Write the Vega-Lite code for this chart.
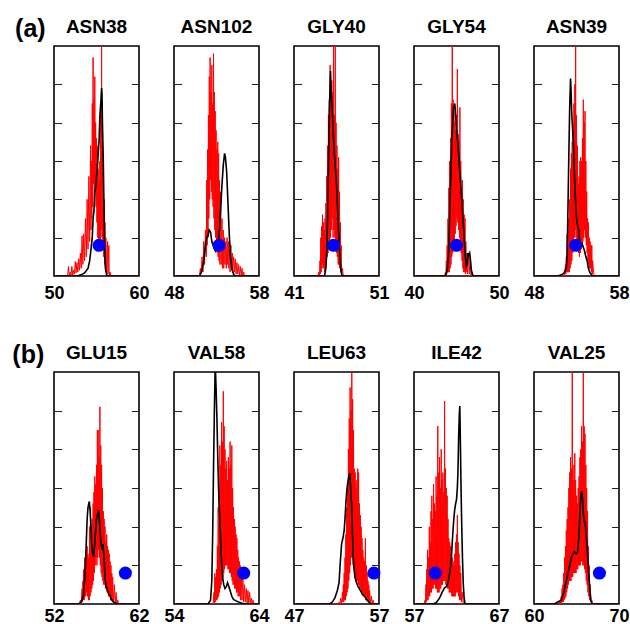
{
"$schema":"https://vega.github.io/schema/vega-lite/v6.json",
"padding":{"left":12,"top":17,"right":0,"bottom":0},
"datasets":{
"r1":[{"x":50,"y":0},{"x":51.6,"y":0},{"x":51.7,"y":0.25},{"x":51.8,"y":0},{"x":51.9,"y":0.1},{"x":52.0,"y":0},{"x":52.1,"y":0.25},{"x":52.2,"y":0.02},{"x":52.3,"y":0.15},{"x":52.4,"y":0.05},{"x":52.5,"y":0.38},{"x":52.6,"y":0.08},{"x":52.7,"y":0.35},{"x":52.8,"y":0.1},{"x":52.9,"y":0.45},{"x":53.0,"y":0.15},{"x":53.1,"y":0.6},{"x":53.2,"y":0.2},{"x":53.3,"y":1.05},{"x":53.4,"y":0.3},{"x":53.5,"y":1.1},{"x":53.6,"y":0.4},{"x":53.7,"y":1.5},{"x":53.8,"y":0.5},{"x":53.9,"y":2.0},{"x":54.0,"y":0.7},{"x":54.1,"y":2.6},{"x":54.2,"y":0.9},{"x":54.3,"y":3.4},{"x":54.35,"y":1.2},{"x":54.4,"y":3.0},{"x":54.45,"y":1.5},{"x":54.5,"y":4.5},{"x":54.55,"y":1.8},{"x":54.6,"y":5.7},{"x":54.65,"y":2.4},{"x":54.7,"y":4.6},{"x":54.75,"y":2.0},{"x":54.8,"y":5.2},{"x":54.85,"y":2.2},{"x":54.9,"y":4.0},{"x":54.95,"y":1.8},{"x":55.0,"y":3.6},{"x":55.05,"y":1.4},{"x":55.1,"y":3.4},{"x":55.15,"y":1.0},{"x":55.2,"y":2.8},{"x":55.25,"y":0.8},{"x":55.3,"y":2.5},{"x":55.35,"y":0.7},{"x":55.4,"y":3.0},{"x":55.45,"y":0.9},{"x":55.5,"y":4.4},{"x":55.55,"y":1.2},{"x":55.6,"y":6.2},{"x":55.65,"y":1.0},{"x":55.7,"y":4.2},{"x":55.75,"y":0.8},{"x":55.8,"y":2.8},{"x":55.85,"y":0.5},{"x":55.9,"y":2.0},{"x":55.95,"y":0.3},{"x":56.0,"y":1.4},{"x":56.05,"y":0.2},{"x":56.1,"y":1.0},{"x":56.2,"y":0.1},{"x":56.3,"y":0.9},{"x":56.35,"y":0.05},{"x":56.45,"y":0.8},{"x":56.5,"y":0},{"x":56.6,"y":0.1},{"x":56.7,"y":0},{"x":60,"y":0}],
"b1":[{"x":50,"y":0},{"x":52.7,"y":0},{"x":53.2,"y":0.03},{"x":53.6,"y":0.08},{"x":54.0,"y":0.2},{"x":54.2,"y":0.4},{"x":54.4,"y":0.8},{"x":54.5,"y":1.0},{"x":54.6,"y":1.5},{"x":54.7,"y":1.7},{"x":54.8,"y":2.2},{"x":54.9,"y":2.3},{"x":55.0,"y":2.6},{"x":55.1,"y":2.8},{"x":55.2,"y":3.2},{"x":55.3,"y":3.5},{"x":55.4,"y":4.2},{"x":55.5,"y":4.5},{"x":55.6,"y":4.9},{"x":55.65,"y":4.7},{"x":55.7,"y":4.0},{"x":55.8,"y":3.0},{"x":55.9,"y":1.5},{"x":55.95,"y":0.8},{"x":56.05,"y":0.2},{"x":56.2,"y":0.02},{"x":56.4,"y":0},{"x":60,"y":0}],
"r2":[{"x":48,"y":0},{"x":51.0,"y":0},{"x":51.1,"y":0.2},{"x":51.2,"y":0.05},{"x":51.3,"y":0.5},{"x":51.4,"y":0.1},{"x":51.5,"y":0.9},{"x":51.6,"y":0.3},{"x":51.7,"y":1.2},{"x":51.8,"y":0.5},{"x":51.85,"y":2.5},{"x":51.9,"y":0.8},{"x":51.95,"y":3.3},{"x":52.0,"y":1.0},{"x":52.05,"y":4.2},{"x":52.1,"y":1.5},{"x":52.15,"y":5.2},{"x":52.2,"y":2.0},{"x":52.25,"y":5.7},{"x":52.3,"y":2.5},{"x":52.35,"y":4.8},{"x":52.4,"y":2.2},{"x":52.45,"y":5.5},{"x":52.5,"y":2.0},{"x":52.55,"y":4.5},{"x":52.6,"y":1.8},{"x":52.65,"y":5.8},{"x":52.7,"y":1.5},{"x":52.75,"y":4.8},{"x":52.8,"y":1.2},{"x":52.85,"y":4.3},{"x":52.9,"y":1.0},{"x":52.95,"y":3.8},{"x":53.0,"y":0.8},{"x":53.05,"y":3.3},{"x":53.1,"y":0.6},{"x":53.15,"y":3.5},{"x":53.2,"y":0.5},{"x":53.25,"y":3.2},{"x":53.3,"y":0.4},{"x":53.35,"y":2.5},{"x":53.4,"y":0.3},{"x":53.5,"y":2.2},{"x":53.55,"y":0.3},{"x":53.65,"y":1.5},{"x":53.7,"y":0.2},{"x":53.8,"y":1.2},{"x":53.85,"y":0.2},{"x":53.95,"y":1.0},{"x":54.0,"y":0.3},{"x":54.1,"y":0.9},{"x":54.15,"y":0.2},{"x":54.25,"y":1.0},{"x":54.3,"y":0.3},{"x":54.4,"y":0.9},{"x":54.45,"y":0.2},{"x":54.55,"y":0.7},{"x":54.6,"y":0.1},{"x":54.7,"y":0.8},{"x":54.75,"y":0.15},{"x":54.85,"y":0.6},{"x":54.9,"y":0.1},{"x":55.0,"y":0.5},{"x":55.1,"y":0.1},{"x":55.2,"y":0.45},{"x":55.3,"y":0.05},{"x":55.4,"y":0.35},{"x":55.5,"y":0.05},{"x":55.6,"y":0.3},{"x":55.7,"y":0.02},{"x":55.8,"y":0.25},{"x":55.9,"y":0.02},{"x":56.0,"y":0.2},{"x":56.1,"y":0},{"x":56.2,"y":0.1},{"x":56.3,"y":0},{"x":58,"y":0}],
"b2":[{"x":48,"y":0},{"x":51.0,"y":0},{"x":51.3,"y":0.15},{"x":51.5,"y":0.4},{"x":51.7,"y":0.8},{"x":51.85,"y":1.0},{"x":52.0,"y":1.05},{"x":52.15,"y":1.2},{"x":52.3,"y":1.15},{"x":52.45,"y":0.9},{"x":52.6,"y":0.8},{"x":52.75,"y":0.7},{"x":52.9,"y":0.65},{"x":53.05,"y":0.75},{"x":53.2,"y":0.85},{"x":53.35,"y":1.2},{"x":53.5,"y":1.8},{"x":53.65,"y":2.4},{"x":53.8,"y":2.9},{"x":53.95,"y":3.2},{"x":54.05,"y":3.1},{"x":54.2,"y":2.7},{"x":54.35,"y":1.9},{"x":54.5,"y":1.1},{"x":54.65,"y":0.5},{"x":54.8,"y":0.2},{"x":55.0,"y":0.05},{"x":55.2,"y":0},{"x":58,"y":0}],
"r3":[{"x":41,"y":0},{"x":43.8,"y":0},{"x":43.9,"y":0.1},{"x":44.0,"y":0},{"x":44.05,"y":0.4},{"x":44.1,"y":0.05},{"x":44.15,"y":1.0},{"x":44.2,"y":0.1},{"x":44.25,"y":1.3},{"x":44.3,"y":0.2},{"x":44.35,"y":1.6},{"x":44.4,"y":0.3},{"x":44.45,"y":1.4},{"x":44.5,"y":0.2},{"x":44.55,"y":1.2},{"x":44.6,"y":0.1},{"x":44.65,"y":1.5},{"x":44.7,"y":0.2},{"x":44.75,"y":1.9},{"x":44.8,"y":0.4},{"x":44.85,"y":2.6},{"x":44.9,"y":0.5},{"x":44.95,"y":3.4},{"x":45.0,"y":0.6},{"x":45.05,"y":4.2},{"x":45.1,"y":0.7},{"x":45.15,"y":4.6},{"x":45.2,"y":0.8},{"x":45.25,"y":5.5},{"x":45.3,"y":1.0},{"x":45.35,"y":4.6},{"x":45.4,"y":1.2},{"x":45.45,"y":5.1},{"x":45.5,"y":1.5},{"x":45.55,"y":4.8},{"x":45.6,"y":1.0},{"x":45.65,"y":6.2},{"x":45.7,"y":1.2},{"x":45.75,"y":4.2},{"x":45.8,"y":1.0},{"x":45.85,"y":6.2},{"x":45.9,"y":0.8},{"x":45.95,"y":4.0},{"x":46.0,"y":0.6},{"x":46.05,"y":3.4},{"x":46.1,"y":0.5},{"x":46.15,"y":2.8},{"x":46.2,"y":0.3},{"x":46.25,"y":3.1},{"x":46.3,"y":0.3},{"x":46.35,"y":2.2},{"x":46.4,"y":0.2},{"x":46.45,"y":1.4},{"x":46.5,"y":0.1},{"x":46.55,"y":0.8},{"x":46.6,"y":0.05},{"x":46.7,"y":0.2},{"x":46.8,"y":0},{"x":51,"y":0}],
"b3":[{"x":41,"y":0},{"x":44.6,"y":0},{"x":44.75,"y":0.2},{"x":44.85,"y":0.6},{"x":44.95,"y":1.5},{"x":45.05,"y":2.8},{"x":45.15,"y":4.2},{"x":45.25,"y":5.0},{"x":45.3,"y":5.35},{"x":45.35,"y":4.9},{"x":45.42,"y":4.6},{"x":45.5,"y":4.3},{"x":45.6,"y":3.8},{"x":45.7,"y":3.4},{"x":45.8,"y":3.0},{"x":45.9,"y":2.7},{"x":46.0,"y":2.4},{"x":46.1,"y":1.9},{"x":46.2,"y":1.4},{"x":46.3,"y":0.9},{"x":46.4,"y":0.5},{"x":46.5,"y":0.2},{"x":46.6,"y":0.05},{"x":46.7,"y":0},{"x":51,"y":0}],
"r4":[{"x":40,"y":0},{"x":43.6,"y":0},{"x":43.7,"y":0.1},{"x":43.75,"y":0},{"x":43.8,"y":0.4},{"x":43.85,"y":0.05},{"x":43.9,"y":0.8},{"x":43.95,"y":0.1},{"x":44.0,"y":1.5},{"x":44.05,"y":0.1},{"x":44.1,"y":2.3},{"x":44.15,"y":0.1},{"x":44.2,"y":3.0},{"x":44.25,"y":0.2},{"x":44.3,"y":3.6},{"x":44.35,"y":0.3},{"x":44.4,"y":4.5},{"x":44.45,"y":0.5},{"x":44.5,"y":6.2},{"x":44.55,"y":0.6},{"x":44.6,"y":4.6},{"x":44.65,"y":0.7},{"x":44.7,"y":4.3},{"x":44.75,"y":0.9},{"x":44.8,"y":4.0},{"x":44.85,"y":1.1},{"x":44.9,"y":3.8},{"x":44.95,"y":1.3},{"x":45.0,"y":4.2},{"x":45.05,"y":1.5},{"x":45.1,"y":5.4},{"x":45.15,"y":1.4},{"x":45.2,"y":3.7},{"x":45.25,"y":1.2},{"x":45.3,"y":3.5},{"x":45.35,"y":1.0},{"x":45.4,"y":4.4},{"x":45.45,"y":0.8},{"x":45.5,"y":3.0},{"x":45.55,"y":0.6},{"x":45.6,"y":2.2},{"x":45.65,"y":0.4},{"x":45.7,"y":2.5},{"x":45.75,"y":0.2},{"x":45.8,"y":2.0},{"x":45.85,"y":0.1},{"x":45.9,"y":1.6},{"x":45.95,"y":0.1},{"x":46.0,"y":1.5},{"x":46.05,"y":0.05},{"x":46.1,"y":0.9},{"x":46.15,"y":0.1},{"x":46.2,"y":0.6},{"x":46.3,"y":0.05},{"x":46.4,"y":0.55},{"x":46.5,"y":0.05},{"x":46.6,"y":0.5},{"x":46.7,"y":0.02},{"x":46.8,"y":0.1},{"x":46.9,"y":0},{"x":50,"y":0}],
"b4":[{"x":40,"y":0},{"x":43.7,"y":0},{"x":43.9,"y":0.15},{"x":44.05,"y":0.5},{"x":44.15,"y":1.2},{"x":44.25,"y":2.0},{"x":44.35,"y":2.8},{"x":44.45,"y":3.5},{"x":44.55,"y":4.0},{"x":44.65,"y":4.4},{"x":44.8,"y":4.5},{"x":44.9,"y":4.2},{"x":45.0,"y":3.8},{"x":45.1,"y":3.6},{"x":45.25,"y":3.2},{"x":45.35,"y":2.8},{"x":45.45,"y":2.6},{"x":45.55,"y":2.2},{"x":45.65,"y":1.9},{"x":45.75,"y":1.5},{"x":45.85,"y":1.2},{"x":45.95,"y":0.8},{"x":46.05,"y":0.5},{"x":46.15,"y":0.25},{"x":46.25,"y":0.3},{"x":46.35,"y":0.6},{"x":46.45,"y":0.55},{"x":46.55,"y":0.6},{"x":46.65,"y":0.4},{"x":46.75,"y":0.15},{"x":46.9,"y":0.03},{"x":47.0,"y":0},{"x":50,"y":0}],
"r5":[{"x":48,"y":0},{"x":51.6,"y":0},{"x":51.7,"y":0.3},{"x":51.75,"y":0.05},{"x":51.8,"y":0.5},{"x":51.85,"y":0.1},{"x":51.9,"y":1.1},{"x":51.95,"y":0.1},{"x":52.0,"y":0.8},{"x":52.05,"y":0.1},{"x":52.1,"y":1.5},{"x":52.15,"y":0.1},{"x":52.2,"y":2.0},{"x":52.25,"y":0.2},{"x":52.3,"y":2.8},{"x":52.35,"y":0.3},{"x":52.4,"y":3.2},{"x":52.45,"y":0.4},{"x":52.5,"y":3.5},{"x":52.55,"y":0.6},{"x":52.6,"y":4.0},{"x":52.65,"y":0.8},{"x":52.7,"y":4.5},{"x":52.75,"y":1.0},{"x":52.8,"y":5.0},{"x":52.85,"y":1.2},{"x":52.9,"y":6.2},{"x":52.95,"y":1.0},{"x":53.0,"y":4.2},{"x":53.05,"y":0.9},{"x":53.1,"y":3.4},{"x":53.15,"y":0.8},{"x":53.2,"y":2.4},{"x":53.25,"y":0.6},{"x":53.3,"y":2.6},{"x":53.35,"y":0.5},{"x":53.4,"y":3.0},{"x":53.45,"y":0.6},{"x":53.5,"y":3.1},{"x":53.55,"y":0.7},{"x":53.6,"y":3.0},{"x":53.65,"y":0.8},{"x":53.7,"y":3.6},{"x":53.75,"y":0.9},{"x":53.8,"y":4.6},{"x":53.85,"y":1.0},{"x":53.9,"y":4.0},{"x":53.95,"y":1.2},{"x":54.0,"y":4.3},{"x":54.05,"y":1.0},{"x":54.1,"y":3.0},{"x":54.15,"y":0.8},{"x":54.2,"y":2.2},{"x":54.25,"y":0.6},{"x":54.3,"y":1.5},{"x":54.35,"y":0.4},{"x":54.4,"y":1.4},{"x":54.45,"y":0.3},{"x":54.5,"y":1.0},{"x":54.55,"y":0.2},{"x":54.6,"y":0.9},{"x":54.65,"y":0.2},{"x":54.7,"y":0.8},{"x":54.75,"y":0.1},{"x":54.8,"y":0.8},{"x":54.85,"y":0.05},{"x":54.9,"y":0.4},{"x":55.0,"y":0.1},{"x":55.1,"y":0},{"x":58,"y":0}],
"b5":[{"x":48,"y":0},{"x":50.8,"y":0},{"x":51.2,"y":0.03},{"x":51.5,"y":0.07},{"x":51.8,"y":0.2},{"x":51.9,"y":0.6},{"x":52.0,"y":1.8},{"x":52.1,"y":3.2},{"x":52.2,"y":4.4},{"x":52.3,"y":5.15},{"x":52.35,"y":4.9},{"x":52.45,"y":4.2},{"x":52.55,"y":3.8},{"x":52.67,"y":3.3},{"x":52.76,"y":2.6},{"x":52.86,"y":2.1},{"x":52.95,"y":1.7},{"x":53.05,"y":1.4},{"x":53.15,"y":1.3},{"x":53.25,"y":1.2},{"x":53.35,"y":0.95},{"x":53.5,"y":0.8},{"x":53.65,"y":0.85},{"x":53.8,"y":0.75},{"x":53.95,"y":0.65},{"x":54.1,"y":0.5},{"x":54.25,"y":0.4},{"x":54.4,"y":0.2},{"x":54.55,"y":0.1},{"x":54.7,"y":0.05},{"x":54.9,"y":0},{"x":58,"y":0}],
"r6":[{"x":52,"y":0},{"x":55.0,"y":0},{"x":55.1,"y":0.1},{"x":55.2,"y":0},{"x":55.3,"y":0.4},{"x":55.35,"y":0.05},{"x":55.4,"y":0.6},{"x":55.45,"y":0.1},{"x":55.5,"y":0.9},{"x":55.55,"y":0.1},{"x":55.6,"y":1.2},{"x":55.65,"y":0.2},{"x":55.7,"y":1.0},{"x":55.75,"y":0.2},{"x":55.8,"y":1.4},{"x":55.85,"y":0.3},{"x":55.9,"y":1.5},{"x":55.95,"y":0.2},{"x":56.0,"y":1.3},{"x":56.05,"y":0.1},{"x":56.1,"y":1.2},{"x":56.15,"y":0.1},{"x":56.2,"y":2.0},{"x":56.25,"y":0.2},{"x":56.3,"y":2.5},{"x":56.35,"y":0.3},{"x":56.4,"y":1.8},{"x":56.45,"y":0.4},{"x":56.5,"y":2.2},{"x":56.55,"y":0.5},{"x":56.6,"y":2.6},{"x":56.65,"y":0.6},{"x":56.7,"y":2.9},{"x":56.75,"y":0.8},{"x":56.8,"y":3.3},{"x":56.85,"y":1.0},{"x":56.9,"y":3.1},{"x":56.95,"y":1.2},{"x":57.0,"y":3.6},{"x":57.05,"y":1.0},{"x":57.1,"y":4.5},{"x":57.15,"y":1.2},{"x":57.2,"y":4.5},{"x":57.25,"y":1.4},{"x":57.3,"y":3.8},{"x":57.35,"y":1.2},{"x":57.4,"y":5.1},{"x":57.45,"y":1.0},{"x":57.5,"y":4.1},{"x":57.55,"y":0.8},{"x":57.6,"y":3.6},{"x":57.65,"y":0.7},{"x":57.7,"y":3.0},{"x":57.75,"y":0.6},{"x":57.8,"y":2.4},{"x":57.85,"y":0.5},{"x":57.9,"y":2.2},{"x":57.95,"y":0.5},{"x":58.0,"y":2.0},{"x":58.05,"y":0.4},{"x":58.1,"y":1.6},{"x":58.15,"y":0.4},{"x":58.2,"y":1.8},{"x":58.25,"y":0.3},{"x":58.3,"y":1.5},{"x":58.35,"y":0.3},{"x":58.4,"y":1.4},{"x":58.45,"y":0.2},{"x":58.5,"y":1.3},{"x":58.55,"y":0.2},{"x":58.6,"y":1.1},{"x":58.65,"y":0.1},{"x":58.7,"y":1.0},{"x":58.75,"y":0.1},{"x":58.8,"y":0.8},{"x":58.85,"y":0.1},{"x":58.9,"y":0.7},{"x":59.0,"y":0.05},{"x":59.1,"y":0.5},{"x":59.2,"y":0.02},{"x":59.3,"y":0.3},{"x":59.4,"y":0},{"x":59.5,"y":0.1},{"x":59.6,"y":0},{"x":62,"y":0}],
"b6":[{"x":52,"y":0},{"x":54.9,"y":0},{"x":55.2,"y":0.05},{"x":55.45,"y":0.2},{"x":55.6,"y":0.6},{"x":55.7,"y":1.0},{"x":55.8,"y":1.6},{"x":55.9,"y":2.2},{"x":56.0,"y":2.5},{"x":56.15,"y":2.65},{"x":56.25,"y":2.4},{"x":56.35,"y":2.0},{"x":56.45,"y":1.5},{"x":56.55,"y":1.3},{"x":56.67,"y":1.22},{"x":56.8,"y":1.6},{"x":56.9,"y":1.9},{"x":57.0,"y":2.2},{"x":57.1,"y":2.3},{"x":57.25,"y":2.43},{"x":57.35,"y":2.1},{"x":57.45,"y":1.8},{"x":57.55,"y":1.5},{"x":57.65,"y":1.4},{"x":57.75,"y":1.55},{"x":57.85,"y":1.3},{"x":57.95,"y":0.9},{"x":58.05,"y":0.6},{"x":58.15,"y":0.45},{"x":58.3,"y":0.35},{"x":58.45,"y":0.25},{"x":58.6,"y":0.2},{"x":58.8,"y":0.1},{"x":59.0,"y":0.05},{"x":59.3,"y":0.02},{"x":59.5,"y":0},{"x":62,"y":0}],
"r7":[{"x":54,"y":0},{"x":58.6,"y":0},{"x":58.7,"y":0.3},{"x":58.75,"y":0},{"x":58.8,"y":0.8},{"x":58.85,"y":0.05},{"x":58.9,"y":0.7},{"x":58.95,"y":0.1},{"x":59.0,"y":0.9},{"x":59.05,"y":0.1},{"x":59.1,"y":1.5},{"x":59.15,"y":0.15},{"x":59.2,"y":2.5},{"x":59.25,"y":0.2},{"x":59.3,"y":3.0},{"x":59.35,"y":0.3},{"x":59.4,"y":4.1},{"x":59.45,"y":0.4},{"x":59.5,"y":3.6},{"x":59.55,"y":0.5},{"x":59.6,"y":4.7},{"x":59.65,"y":0.6},{"x":59.7,"y":4.2},{"x":59.75,"y":0.7},{"x":59.8,"y":5.5},{"x":59.85,"y":0.8},{"x":59.9,"y":4.6},{"x":59.95,"y":0.9},{"x":60.0,"y":4.0},{"x":60.05,"y":1.0},{"x":60.1,"y":3.5},{"x":60.15,"y":1.0},{"x":60.2,"y":3.7},{"x":60.25,"y":1.0},{"x":60.3,"y":3.2},{"x":60.35,"y":0.9},{"x":60.4,"y":3.8},{"x":60.45,"y":0.9},{"x":60.5,"y":3.5},{"x":60.55,"y":0.8},{"x":60.6,"y":4.2},{"x":60.65,"y":0.8},{"x":60.7,"y":3.6},{"x":60.75,"y":0.7},{"x":60.8,"y":4.1},{"x":60.85,"y":0.6},{"x":60.9,"y":3.0},{"x":60.95,"y":0.5},{"x":61.0,"y":2.5},{"x":61.05,"y":0.5},{"x":61.1,"y":2.2},{"x":61.15,"y":0.4},{"x":61.2,"y":2.0},{"x":61.25,"y":0.4},{"x":61.3,"y":1.8},{"x":61.35,"y":0.3},{"x":61.4,"y":1.7},{"x":61.45,"y":0.3},{"x":61.5,"y":1.4},{"x":61.55,"y":0.2},{"x":61.6,"y":1.2},{"x":61.65,"y":0.2},{"x":61.7,"y":1.1},{"x":61.75,"y":0.2},{"x":61.8,"y":1.0},{"x":61.85,"y":0.1},{"x":61.9,"y":0.95},{"x":62.0,"y":0.1},{"x":62.1,"y":0.7},{"x":62.2,"y":0.05},{"x":62.3,"y":0.5},{"x":62.4,"y":0.05},{"x":62.5,"y":0.4},{"x":62.6,"y":0.02},{"x":62.7,"y":0.35},{"x":62.8,"y":0},{"x":62.9,"y":0.3},{"x":63.0,"y":0},{"x":63.1,"y":0.15},{"x":63.2,"y":0},{"x":63.3,"y":0.1},{"x":63.4,"y":0},{"x":64,"y":0}],
"b7":[{"x":54,"y":0},{"x":58.0,"y":0},{"x":58.3,"y":0.1},{"x":58.45,"y":0.6},{"x":58.55,"y":1.8},{"x":58.65,"y":3.5},{"x":58.75,"y":5.0},{"x":58.85,"y":6.2},{"x":58.95,"y":5.6},{"x":59.05,"y":4.8},{"x":59.15,"y":3.8},{"x":59.25,"y":2.95},{"x":59.35,"y":2.4},{"x":59.45,"y":1.9},{"x":59.55,"y":1.3},{"x":59.65,"y":0.88},{"x":59.75,"y":0.65},{"x":59.85,"y":0.5},{"x":60.0,"y":0.4},{"x":60.15,"y":0.45},{"x":60.3,"y":0.55},{"x":60.45,"y":0.45},{"x":60.6,"y":0.35},{"x":60.8,"y":0.2},{"x":61.0,"y":0.12},{"x":61.3,"y":0.08},{"x":61.6,"y":0.05},{"x":62.0,"y":0.02},{"x":62.5,"y":0},{"x":64,"y":0}],
"r8":[{"x":47,"y":0},{"x":52.2,"y":0},{"x":52.3,"y":0.05},{"x":52.4,"y":0},{"x":52.5,"y":0.15},{"x":52.6,"y":0},{"x":52.7,"y":0.3},{"x":52.75,"y":0.05},{"x":52.8,"y":0.5},{"x":52.85,"y":0.05},{"x":52.9,"y":0.8},{"x":52.95,"y":0.1},{"x":53.0,"y":1.2},{"x":53.05,"y":0.1},{"x":53.1,"y":1.8},{"x":53.15,"y":0.2},{"x":53.2,"y":2.5},{"x":53.25,"y":0.3},{"x":53.3,"y":3.0},{"x":53.35,"y":0.4},{"x":53.4,"y":4.0},{"x":53.45,"y":0.6},{"x":53.5,"y":4.8},{"x":53.55,"y":0.8},{"x":53.6,"y":5.6},{"x":53.65,"y":1.0},{"x":53.7,"y":5.0},{"x":53.75,"y":1.2},{"x":53.8,"y":6.2},{"x":53.85,"y":1.2},{"x":53.9,"y":5.3},{"x":53.95,"y":1.0},{"x":54.0,"y":4.5},{"x":54.05,"y":0.9},{"x":54.1,"y":3.5},{"x":54.15,"y":0.8},{"x":54.2,"y":3.4},{"x":54.25,"y":0.7},{"x":54.3,"y":3.0},{"x":54.35,"y":0.6},{"x":54.4,"y":3.2},{"x":54.45,"y":0.6},{"x":54.5,"y":3.5},{"x":54.55,"y":0.5},{"x":54.6,"y":3.4},{"x":54.65,"y":0.5},{"x":54.7,"y":2.6},{"x":54.75,"y":0.4},{"x":54.8,"y":2.3},{"x":54.85,"y":0.4},{"x":54.9,"y":2.0},{"x":54.95,"y":0.3},{"x":55.0,"y":1.7},{"x":55.05,"y":0.3},{"x":55.1,"y":1.4},{"x":55.15,"y":0.2},{"x":55.2,"y":1.2},{"x":55.25,"y":0.2},{"x":55.3,"y":1.1},{"x":55.35,"y":0.2},{"x":55.4,"y":1.7},{"x":55.45,"y":0.1},{"x":55.5,"y":1.0},{"x":55.55,"y":0.1},{"x":55.6,"y":0.8},{"x":55.65,"y":0.1},{"x":55.7,"y":0.6},{"x":55.75,"y":0.05},{"x":55.8,"y":0.5},{"x":55.85,"y":0.05},{"x":55.9,"y":0.35},{"x":56.0,"y":0.02},{"x":56.1,"y":0.2},{"x":56.2,"y":0},{"x":56.3,"y":0.1},{"x":56.4,"y":0},{"x":57,"y":0}],
"b8":[{"x":47,"y":0},{"x":51.2,"y":0},{"x":51.5,"y":0.05},{"x":51.8,"y":0.15},{"x":52.1,"y":0.35},{"x":52.3,"y":0.55},{"x":52.45,"y":1.1},{"x":52.6,"y":1.55},{"x":52.75,"y":1.7},{"x":52.9,"y":1.9},{"x":53.0,"y":2.2},{"x":53.1,"y":2.6},{"x":53.2,"y":2.9},{"x":53.3,"y":3.1},{"x":53.45,"y":3.3},{"x":53.58,"y":3.38},{"x":53.68,"y":2.9},{"x":53.77,"y":2.6},{"x":53.87,"y":1.9},{"x":53.97,"y":1.2},{"x":54.07,"y":0.9},{"x":54.16,"y":0.7},{"x":54.35,"y":0.55},{"x":54.55,"y":0.45},{"x":54.8,"y":0.35},{"x":55.05,"y":0.25},{"x":55.3,"y":0.2},{"x":55.6,"y":0.1},{"x":55.9,"y":0.03},{"x":56.1,"y":0},{"x":57,"y":0}],
"r9":[{"x":57,"y":0},{"x":58.2,"y":0},{"x":58.3,"y":0.1},{"x":58.35,"y":0},{"x":58.4,"y":0.5},{"x":58.45,"y":0.05},{"x":58.5,"y":0.9},{"x":58.55,"y":0.1},{"x":58.6,"y":1.4},{"x":58.65,"y":0.1},{"x":58.7,"y":1.2},{"x":58.75,"y":0.2},{"x":58.8,"y":2.0},{"x":58.85,"y":0.2},{"x":58.9,"y":1.6},{"x":58.95,"y":0.3},{"x":59.0,"y":2.4},{"x":59.05,"y":0.3},{"x":59.1,"y":2.8},{"x":59.15,"y":0.4},{"x":59.2,"y":2.2},{"x":59.25,"y":0.4},{"x":59.3,"y":3.1},{"x":59.35,"y":0.5},{"x":59.4,"y":2.6},{"x":59.45,"y":0.5},{"x":59.5,"y":2.4},{"x":59.55,"y":0.4},{"x":59.6,"y":3.3},{"x":59.65,"y":0.4},{"x":59.7,"y":2.8},{"x":59.75,"y":0.3},{"x":59.8,"y":4.6},{"x":59.85,"y":0.3},{"x":59.9,"y":3.4},{"x":59.95,"y":0.3},{"x":60.0,"y":3.8},{"x":60.05,"y":0.4},{"x":60.1,"y":3.0},{"x":60.15,"y":0.4},{"x":60.2,"y":4.0},{"x":60.25,"y":0.5},{"x":60.3,"y":3.2},{"x":60.35,"y":0.5},{"x":60.4,"y":3.4},{"x":60.45,"y":0.6},{"x":60.5,"y":2.9},{"x":60.55,"y":0.6},{"x":60.6,"y":5.25},{"x":60.65,"y":0.6},{"x":60.7,"y":3.5},{"x":60.75,"y":0.5},{"x":60.8,"y":3.0},{"x":60.85,"y":0.5},{"x":60.9,"y":2.8},{"x":60.95,"y":0.4},{"x":61.0,"y":2.2},{"x":61.05,"y":0.4},{"x":61.1,"y":1.7},{"x":61.15,"y":0.3},{"x":61.2,"y":1.6},{"x":61.25,"y":0.3},{"x":61.3,"y":1.5},{"x":61.35,"y":0.3},{"x":61.4,"y":1.3},{"x":61.45,"y":0.2},{"x":61.5,"y":1.2},{"x":61.55,"y":0.2},{"x":61.6,"y":1.1},{"x":61.65,"y":0.2},{"x":61.7,"y":1.0},{"x":61.75,"y":0.2},{"x":61.8,"y":1.3},{"x":61.85,"y":0.2},{"x":61.9,"y":1.6},{"x":61.95,"y":0.3},{"x":62.0,"y":1.8},{"x":62.05,"y":0.3},{"x":62.1,"y":2.3},{"x":62.15,"y":0.3},{"x":62.2,"y":1.6},{"x":62.25,"y":0.2},{"x":62.3,"y":1.3},{"x":62.35,"y":0.1},{"x":62.4,"y":1.0},{"x":62.45,"y":0.1},{"x":62.5,"y":0.8},{"x":62.6,"y":0.05},{"x":62.7,"y":0.3},{"x":62.8,"y":0},{"x":62.9,"y":0.05},{"x":63.0,"y":0},{"x":67,"y":0}],
"b9":[{"x":57,"y":0},{"x":59.2,"y":0},{"x":59.6,"y":0.03},{"x":60.0,"y":0.15},{"x":60.3,"y":0.3},{"x":60.6,"y":0.42},{"x":60.8,"y":0.45},{"x":61.0,"y":0.55},{"x":61.2,"y":0.8},{"x":61.38,"y":1.1},{"x":61.5,"y":1.6},{"x":61.65,"y":2.1},{"x":61.77,"y":2.4},{"x":61.9,"y":2.6},{"x":62.0,"y":2.7},{"x":62.1,"y":3.0},{"x":62.17,"y":3.4},{"x":62.25,"y":4.3},{"x":62.33,"y":4.9},{"x":62.39,"y":5.12},{"x":62.45,"y":4.3},{"x":62.52,"y":3.2},{"x":62.6,"y":2.2},{"x":62.7,"y":1.2},{"x":62.8,"y":0.5},{"x":62.9,"y":0.15},{"x":63.0,"y":0.02},{"x":63.1,"y":0},{"x":67,"y":0}],
"r10":[{"x":60,"y":0},{"x":62.9,"y":0},{"x":63.0,"y":0.05},{"x":63.1,"y":0},{"x":63.2,"y":0.2},{"x":63.25,"y":0},{"x":63.3,"y":0.4},{"x":63.35,"y":0.05},{"x":63.4,"y":0.5},{"x":63.45,"y":0.05},{"x":63.5,"y":0.8},{"x":63.55,"y":0.1},{"x":63.6,"y":1.2},{"x":63.65,"y":0.15},{"x":63.7,"y":1.5},{"x":63.75,"y":0.2},{"x":63.8,"y":1.9},{"x":63.85,"y":0.3},{"x":63.9,"y":2.2},{"x":63.95,"y":0.4},{"x":64.0,"y":2.5},{"x":64.05,"y":0.5},{"x":64.1,"y":3.0},{"x":64.15,"y":0.6},{"x":64.2,"y":3.4},{"x":64.25,"y":0.6},{"x":64.3,"y":3.8},{"x":64.35,"y":0.6},{"x":64.4,"y":3.5},{"x":64.45,"y":0.7},{"x":64.5,"y":6.2},{"x":64.55,"y":0.7},{"x":64.6,"y":3.2},{"x":64.65,"y":0.8},{"x":64.7,"y":3.6},{"x":64.75,"y":0.8},{"x":64.8,"y":3.9},{"x":64.85,"y":0.8},{"x":64.9,"y":3.2},{"x":64.95,"y":0.8},{"x":65.0,"y":2.8},{"x":65.05,"y":0.9},{"x":65.1,"y":2.6},{"x":65.15,"y":0.9},{"x":65.2,"y":3.0},{"x":65.25,"y":1.0},{"x":65.3,"y":3.3},{"x":65.35,"y":1.0},{"x":65.4,"y":3.8},{"x":65.45,"y":1.0},{"x":65.5,"y":4.0},{"x":65.55,"y":1.1},{"x":65.6,"y":4.6},{"x":65.65,"y":1.1},{"x":65.7,"y":4.2},{"x":65.75,"y":1.0},{"x":65.8,"y":6.2},{"x":65.85,"y":1.0},{"x":65.9,"y":4.6},{"x":65.95,"y":0.9},{"x":66.0,"y":4.4},{"x":66.05,"y":0.8},{"x":66.1,"y":3.6},{"x":66.15,"y":0.6},{"x":66.2,"y":3.0},{"x":66.25,"y":0.5},{"x":66.3,"y":2.4},{"x":66.35,"y":0.3},{"x":66.4,"y":1.5},{"x":66.45,"y":0.2},{"x":66.5,"y":1.0},{"x":66.55,"y":0.1},{"x":66.6,"y":0.5},{"x":66.7,"y":0.05},{"x":66.8,"y":0.1},{"x":66.9,"y":0},{"x":70,"y":0}],
"b10":[{"x":60,"y":0},{"x":62.4,"y":0},{"x":62.8,"y":0.05},{"x":63.2,"y":0.1},{"x":63.5,"y":0.3},{"x":63.75,"y":0.55},{"x":63.97,"y":0.76},{"x":64.2,"y":1.0},{"x":64.4,"y":1.2},{"x":64.55,"y":1.28},{"x":64.75,"y":1.35},{"x":64.95,"y":1.3},{"x":65.14,"y":1.36},{"x":65.3,"y":1.8},{"x":65.42,"y":2.4},{"x":65.53,"y":2.85},{"x":65.62,"y":2.92},{"x":65.72,"y":2.7},{"x":65.82,"y":2.3},{"x":65.92,"y":2.1},{"x":65.99,"y":2.14},{"x":66.1,"y":1.9},{"x":66.2,"y":1.6},{"x":66.3,"y":1.28},{"x":66.4,"y":0.9},{"x":66.5,"y":0.6},{"x":66.6,"y":0.3},{"x":66.7,"y":0.08},{"x":66.85,"y":0},{"x":70,"y":0}]
},
"vconcat":[
{"title":{"text":"(a)","orient":"left","anchor":"end","angle":0,"align":"right","baseline":"top","fontSize":25,"offset":0,"dx":33},
 "hconcat":[
{"width":85,"height":230,"title":"ASN38",
 "encoding":{"x":{"field":"x","type":"quantitative","scale":{"domain":[50,60],"nice":false,"zero":false},"axis":{"values":[50,60],"title":null}},
  "y":{"field":"y","type":"quantitative","scale":{"domain":[0,6],"nice":false},"axis":{"values":[1,2,3,4,5],"orient":"left","title":null}}},
 "layer":[
  {"data":{"name":"r1"},"mark":{"type":"line","color":"#ff0000","strokeWidth":1,"clip":true}},
  {"data":{"name":"b1"},"mark":{"type":"line","color":"#000000","strokeWidth":1.6,"clip":true},"encoding":{"y":{"field":"y","type":"quantitative","scale":{"domain":[0,6],"nice":false},"axis":{"values":[1,2,3,4,5],"orient":"right","title":null}}}},
  {"data":{"values":[{"x":55.3,"y":0.8}]},"mark":{"type":"circle","color":"#0000ff","opacity":1,"size":170},"encoding":{"y":{"field":"y","type":"quantitative","axis":null}}}
 ],"resolve":{"axis":{"y":"independent"}}},
{"width":85,"height":230,"title":"ASN102",
 "encoding":{"x":{"field":"x","type":"quantitative","scale":{"domain":[48,58],"nice":false,"zero":false},"axis":{"values":[48,58],"title":null}},
  "y":{"field":"y","type":"quantitative","scale":{"domain":[0,6],"nice":false},"axis":{"values":[1,2,3,4,5],"orient":"left","title":null}}},
 "layer":[
  {"data":{"name":"r2"},"mark":{"type":"line","color":"#ff0000","strokeWidth":1,"clip":true}},
  {"data":{"name":"b2"},"mark":{"type":"line","color":"#000000","strokeWidth":1.6,"clip":true},"encoding":{"y":{"field":"y","type":"quantitative","scale":{"domain":[0,6],"nice":false},"axis":{"values":[1,2,3,4,5],"orient":"right","title":null}}}},
  {"data":{"values":[{"x":53.3,"y":0.8}]},"mark":{"type":"circle","color":"#0000ff","opacity":1,"size":170},"encoding":{"y":{"field":"y","type":"quantitative","axis":null}}}
 ],"resolve":{"axis":{"y":"independent"}}},
{"width":85,"height":230,"title":"GLY40",
 "encoding":{"x":{"field":"x","type":"quantitative","scale":{"domain":[41,51],"nice":false,"zero":false},"axis":{"values":[41,51],"title":null}},
  "y":{"field":"y","type":"quantitative","scale":{"domain":[0,6],"nice":false},"axis":{"values":[1,2,3,4,5],"orient":"left","title":null}}},
 "layer":[
  {"data":{"name":"r3"},"mark":{"type":"line","color":"#ff0000","strokeWidth":1,"clip":true}},
  {"data":{"name":"b3"},"mark":{"type":"line","color":"#000000","strokeWidth":1.6,"clip":true},"encoding":{"y":{"field":"y","type":"quantitative","scale":{"domain":[0,6],"nice":false},"axis":{"values":[1,2,3,4,5],"orient":"right","title":null}}}},
  {"data":{"values":[{"x":45.65,"y":0.8}]},"mark":{"type":"circle","color":"#0000ff","opacity":1,"size":170},"encoding":{"y":{"field":"y","type":"quantitative","axis":null}}}
 ],"resolve":{"axis":{"y":"independent"}}},
{"width":85,"height":230,"title":"GLY54",
 "encoding":{"x":{"field":"x","type":"quantitative","scale":{"domain":[40,50],"nice":false,"zero":false},"axis":{"values":[40,50],"title":null}},
  "y":{"field":"y","type":"quantitative","scale":{"domain":[0,6],"nice":false},"axis":{"values":[1,2,3,4,5],"orient":"left","title":null}}},
 "layer":[
  {"data":{"name":"r4"},"mark":{"type":"line","color":"#ff0000","strokeWidth":1,"clip":true}},
  {"data":{"name":"b4"},"mark":{"type":"line","color":"#000000","strokeWidth":1.6,"clip":true},"encoding":{"y":{"field":"y","type":"quantitative","scale":{"domain":[0,6],"nice":false},"axis":{"values":[1,2,3,4,5],"orient":"right","title":null}}}},
  {"data":{"values":[{"x":45.0,"y":0.8}]},"mark":{"type":"circle","color":"#0000ff","opacity":1,"size":170},"encoding":{"y":{"field":"y","type":"quantitative","axis":null}}}
 ],"resolve":{"axis":{"y":"independent"}}},
{"width":85,"height":230,"title":"ASN39",
 "encoding":{"x":{"field":"x","type":"quantitative","scale":{"domain":[48,58],"nice":false,"zero":false},"axis":{"values":[48,58],"title":null}},
  "y":{"field":"y","type":"quantitative","scale":{"domain":[0,6],"nice":false},"axis":{"values":[1,2,3,4,5],"orient":"left","title":null}}},
 "layer":[
  {"data":{"name":"r5"},"mark":{"type":"line","color":"#ff0000","strokeWidth":1,"clip":true}},
  {"data":{"name":"b5"},"mark":{"type":"line","color":"#000000","strokeWidth":1.6,"clip":true},"encoding":{"y":{"field":"y","type":"quantitative","scale":{"domain":[0,6],"nice":false},"axis":{"values":[1,2,3,4,5],"orient":"right","title":null}}}},
  {"data":{"values":[{"x":52.9,"y":0.8}]},"mark":{"type":"circle","color":"#0000ff","opacity":1,"size":170},"encoding":{"y":{"field":"y","type":"quantitative","axis":null}}}
 ],"resolve":{"axis":{"y":"independent"}}}
],"spacing":35,"bounds":"flush"},
{"title":{"text":"(b)","orient":"left","anchor":"end","angle":0,"align":"right","baseline":"top","fontSize":25,"offset":0,"dx":33},
 "hconcat":[
{"width":85,"height":232,"title":"GLU15",
 "encoding":{"x":{"field":"x","type":"quantitative","scale":{"domain":[52,62],"nice":false,"zero":false},"axis":{"values":[52,62],"title":null,"labelPadding":3}},
  "y":{"field":"y","type":"quantitative","scale":{"domain":[0,6],"nice":false},"axis":{"values":[1,2,3,4,5],"orient":"left","title":null}}},
 "layer":[
  {"data":{"name":"r6"},"mark":{"type":"line","color":"#ff0000","strokeWidth":1,"clip":true}},
  {"data":{"name":"b6"},"mark":{"type":"line","color":"#000000","strokeWidth":1.6,"clip":true},"encoding":{"y":{"field":"y","type":"quantitative","scale":{"domain":[0,6],"nice":false},"axis":{"values":[1,2,3,4,5],"orient":"right","title":null}}}},
  {"data":{"values":[{"x":60.4,"y":0.8}]},"mark":{"type":"circle","color":"#0000ff","opacity":1,"size":170},"encoding":{"y":{"field":"y","type":"quantitative","axis":null}}}
 ],"resolve":{"axis":{"y":"independent"}}},
{"width":85,"height":232,"title":"VAL58",
 "encoding":{"x":{"field":"x","type":"quantitative","scale":{"domain":[54,64],"nice":false,"zero":false},"axis":{"values":[54,64],"title":null,"labelPadding":3}},
  "y":{"field":"y","type":"quantitative","scale":{"domain":[0,6],"nice":false},"axis":{"values":[1,2,3,4,5],"orient":"left","title":null}}},
 "layer":[
  {"data":{"name":"r7"},"mark":{"type":"line","color":"#ff0000","strokeWidth":1,"clip":true}},
  {"data":{"name":"b7"},"mark":{"type":"line","color":"#000000","strokeWidth":1.6,"clip":true},"encoding":{"y":{"field":"y","type":"quantitative","scale":{"domain":[0,6],"nice":false},"axis":{"values":[1,2,3,4,5],"orient":"right","title":null}}}},
  {"data":{"values":[{"x":62.2,"y":0.8}]},"mark":{"type":"circle","color":"#0000ff","opacity":1,"size":170},"encoding":{"y":{"field":"y","type":"quantitative","axis":null}}}
 ],"resolve":{"axis":{"y":"independent"}}},
{"width":85,"height":232,"title":"LEU63",
 "encoding":{"x":{"field":"x","type":"quantitative","scale":{"domain":[47,57],"nice":false,"zero":false},"axis":{"values":[47,57],"title":null,"labelPadding":3}},
  "y":{"field":"y","type":"quantitative","scale":{"domain":[0,6],"nice":false},"axis":{"values":[1,2,3,4,5],"orient":"left","title":null}}},
 "layer":[
  {"data":{"name":"r8"},"mark":{"type":"line","color":"#ff0000","strokeWidth":1,"clip":true}},
  {"data":{"name":"b8"},"mark":{"type":"line","color":"#000000","strokeWidth":1.6,"clip":true},"encoding":{"y":{"field":"y","type":"quantitative","scale":{"domain":[0,6],"nice":false},"axis":{"values":[1,2,3,4,5],"orient":"right","title":null}}}},
  {"data":{"values":[{"x":56.4,"y":0.8}]},"mark":{"type":"circle","color":"#0000ff","opacity":1,"size":170},"encoding":{"y":{"field":"y","type":"quantitative","axis":null}}}
 ],"resolve":{"axis":{"y":"independent"}}},
{"width":85,"height":232,"title":"ILE42",
 "encoding":{"x":{"field":"x","type":"quantitative","scale":{"domain":[57,67],"nice":false,"zero":false},"axis":{"values":[57,67],"title":null,"labelPadding":3}},
  "y":{"field":"y","type":"quantitative","scale":{"domain":[0,6],"nice":false},"axis":{"values":[1,2,3,4,5],"orient":"left","title":null}}},
 "layer":[
  {"data":{"name":"r9"},"mark":{"type":"line","color":"#ff0000","strokeWidth":1,"clip":true}},
  {"data":{"name":"b9"},"mark":{"type":"line","color":"#000000","strokeWidth":1.6,"clip":true},"encoding":{"y":{"field":"y","type":"quantitative","scale":{"domain":[0,6],"nice":false},"axis":{"values":[1,2,3,4,5],"orient":"right","title":null}}}},
  {"data":{"values":[{"x":59.5,"y":0.8}]},"mark":{"type":"circle","color":"#0000ff","opacity":1,"size":170},"encoding":{"y":{"field":"y","type":"quantitative","axis":null}}}
 ],"resolve":{"axis":{"y":"independent"}}},
{"width":85,"height":232,"title":"VAL25",
 "encoding":{"x":{"field":"x","type":"quantitative","scale":{"domain":[60,70],"nice":false,"zero":false},"axis":{"values":[60,70],"title":null,"labelPadding":3}},
  "y":{"field":"y","type":"quantitative","scale":{"domain":[0,6],"nice":false},"axis":{"values":[1,2,3,4,5],"orient":"left","title":null}}},
 "layer":[
  {"data":{"name":"r10"},"mark":{"type":"line","color":"#ff0000","strokeWidth":1,"clip":true}},
  {"data":{"name":"b10"},"mark":{"type":"line","color":"#000000","strokeWidth":1.6,"clip":true},"encoding":{"y":{"field":"y","type":"quantitative","scale":{"domain":[0,6],"nice":false},"axis":{"values":[1,2,3,4,5],"orient":"right","title":null}}}},
  {"data":{"values":[{"x":67.7,"y":0.8}]},"mark":{"type":"circle","color":"#0000ff","opacity":1,"size":170},"encoding":{"y":{"field":"y","type":"quantitative","axis":null}}}
 ],"resolve":{"axis":{"y":"independent"}}}
],"spacing":35,"bounds":"flush"}
],
"spacing":40,
"config":{
 "font":"Liberation Sans",
 "view":{"stroke":"#000000","strokeWidth":1.6},
 "title":{"fontSize":19,"fontWeight":"bold","color":"#000000","font":"Liberation Sans","offset":9,"baseline":"alphabetic"},
 "axis":{"grid":false,"domain":false,"minExtent":0},
 "axisX":{"ticks":false,"tickSize":0,"labelFontSize":18,"labelFontWeight":"bold","labelColor":"#000000","labelFont":"Liberation Sans","labelPadding":8,"labelFlush":false,"labelOverlap":false},
 "axisY":{"labels":false,"ticks":true,"tickSize":-7.5,"tickColor":"#222222","tickWidth":1}
}
}
